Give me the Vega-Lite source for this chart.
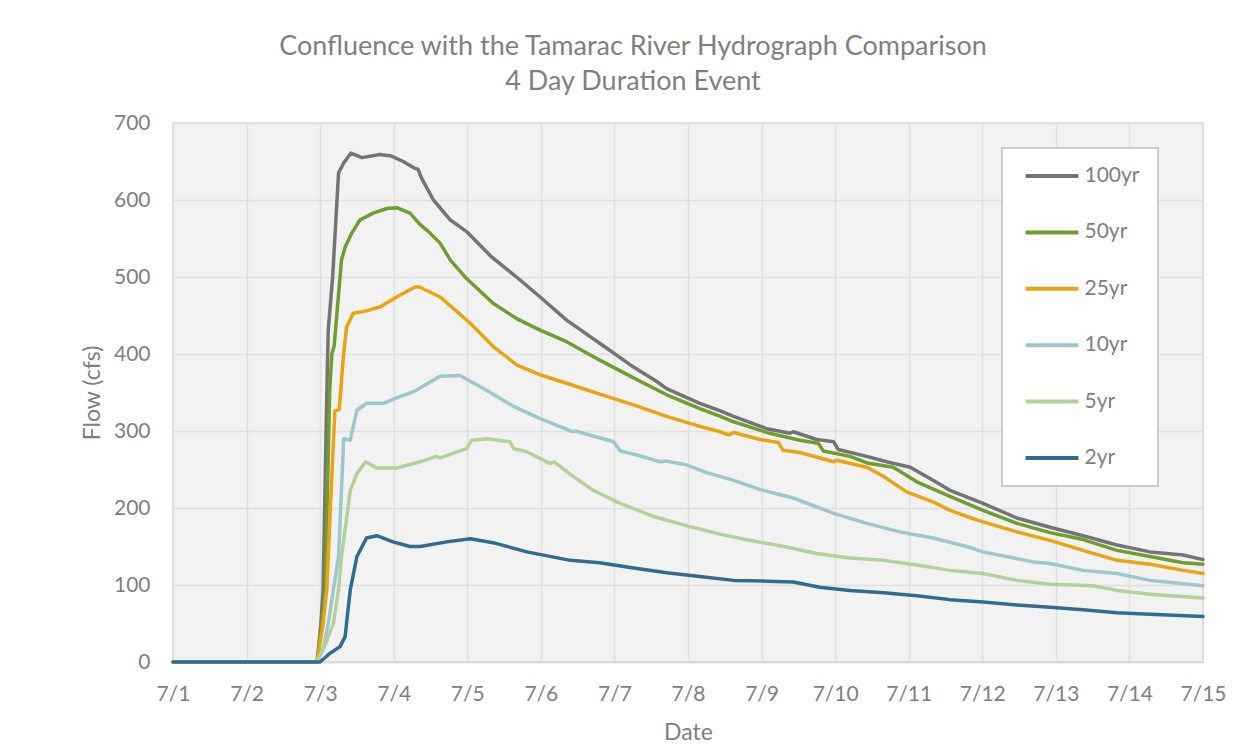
{
  "$schema": "https://vega.github.io/schema/vega-lite/v6.json",
  "width": 1030,
  "height": 539,
  "autosize": "none",
  "padding": {"left": 173, "top": 123, "right": 49, "bottom": 84},
  "background": "white",
  "title": {
    "text": ["Confluence with the Tamarac River Hydrograph Comparison", "4 Day Duration Event"],
    "anchor": "middle",
    "dx": -55,
    "offset": 16,
    "lineHeight": 35,
    "font": "Lato",
    "fontSize": 27,
    "fontWeight": "normal",
    "color": "#7f7f7f"
  },
  "config": {
    "view": {"fill": "#f2f2f2", "stroke": "#d9d9d9", "strokeWidth": 1.5},
    "axis": {
      "labelFont": "Lato", "labelFontSize": 21, "labelColor": "#7f7f7f",
      "titleFont": "Lato", "titleFontSize": 23, "titleFontWeight": "normal", "titleColor": "#7f7f7f",
      "gridColor": "#e0e0e0", "gridWidth": 1.5, "ticks": false
    },
    "legend": {
      "orient": "none", "legendX": 829, "legendY": 25,
      "fillColor": "white", "strokeColor": "#bfbfbf", "strokeWidth": 1.5,
      "padding": 17.5, "rowPadding": 34.4,
      "symbolType": "M-4,0H4", "symbolSize": 175, "symbolStrokeWidth": 4,
      "symbolOffset": 22, "labelOffset": 22,
      "labelFont": "Lato", "labelFontSize": 21, "labelColor": "#7f7f7f"
    }
  },
  "data": {"values": [
    {"d":1,"q":0,"s":"100yr"},{"d":2.96,"q":0,"s":"100yr"},{"d":3.01,"q":50,"s":"100yr"},{"d":3.04,"q":94,"s":"100yr"},{"d":3.09,"q":345,"s":"100yr"},{"d":3.11,"q":431,"s":"100yr"},{"d":3.17,"q":500,"s":"100yr"},{"d":3.25,"q":635,"s":"100yr"},{"d":3.32,"q":648,"s":"100yr"},{"d":3.42,"q":661,"s":"100yr"},{"d":3.57,"q":655,"s":"100yr"},{"d":3.81,"q":659,"s":"100yr"},{"d":3.97,"q":657,"s":"100yr"},{"d":4.13,"q":650,"s":"100yr"},{"d":4.29,"q":641,"s":"100yr"},{"d":4.33,"q":640,"s":"100yr"},{"d":4.38,"q":628,"s":"100yr"},{"d":4.54,"q":600,"s":"100yr"},{"d":4.77,"q":574,"s":"100yr"},{"d":4.99,"q":559,"s":"100yr"},{"d":5.33,"q":526,"s":"100yr"},{"d":5.67,"q":500,"s":"100yr"},{"d":5.99,"q":474,"s":"100yr"},{"d":6.35,"q":444,"s":"100yr"},{"d":6.8,"q":414,"s":"100yr"},{"d":7.26,"q":383,"s":"100yr"},{"d":7.58,"q":364,"s":"100yr"},{"d":7.71,"q":355,"s":"100yr"},{"d":8.16,"q":336,"s":"100yr"},{"d":8.44,"q":326,"s":"100yr"},{"d":8.62,"q":319,"s":"100yr"},{"d":9.07,"q":303,"s":"100yr"},{"d":9.39,"q":297,"s":"100yr"},{"d":9.43,"q":299,"s":"100yr"},{"d":9.75,"q":289,"s":"100yr"},{"d":9.98,"q":286,"s":"100yr"},{"d":10.04,"q":276,"s":"100yr"},{"d":10.43,"q":267,"s":"100yr"},{"d":10.7,"q":260,"s":"100yr"},{"d":11.02,"q":253,"s":"100yr"},{"d":11.33,"q":236,"s":"100yr"},{"d":11.56,"q":223,"s":"100yr"},{"d":12.01,"q":206,"s":"100yr"},{"d":12.47,"q":187,"s":"100yr"},{"d":12.92,"q":175,"s":"100yr"},{"d":13.37,"q":164,"s":"100yr"},{"d":13.83,"q":152,"s":"100yr"},{"d":14.28,"q":143,"s":"100yr"},{"d":14.73,"q":139,"s":"100yr"},{"d":15,"q":133,"s":"100yr"},

    {"d":1,"q":0,"s":"50yr"},{"d":2.96,"q":0,"s":"50yr"},{"d":3.02,"q":50,"s":"50yr"},{"d":3.07,"q":94,"s":"50yr"},{"d":3.13,"q":353,"s":"50yr"},{"d":3.16,"q":401,"s":"50yr"},{"d":3.19,"q":410,"s":"50yr"},{"d":3.29,"q":522,"s":"50yr"},{"d":3.34,"q":539,"s":"50yr"},{"d":3.43,"q":557,"s":"50yr"},{"d":3.54,"q":574,"s":"50yr"},{"d":3.72,"q":583,"s":"50yr"},{"d":3.91,"q":589,"s":"50yr"},{"d":4.04,"q":590,"s":"50yr"},{"d":4.22,"q":583,"s":"50yr"},{"d":4.36,"q":568,"s":"50yr"},{"d":4.45,"q":561,"s":"50yr"},{"d":4.63,"q":544,"s":"50yr"},{"d":4.77,"q":522,"s":"50yr"},{"d":4.99,"q":498,"s":"50yr"},{"d":5.35,"q":466,"s":"50yr"},{"d":5.67,"q":446,"s":"50yr"},{"d":5.99,"q":431,"s":"50yr"},{"d":6.35,"q":416,"s":"50yr"},{"d":6.8,"q":392,"s":"50yr"},{"d":7.26,"q":369,"s":"50yr"},{"d":7.71,"q":347,"s":"50yr"},{"d":8.16,"q":329,"s":"50yr"},{"d":8.44,"q":319,"s":"50yr"},{"d":8.62,"q":312,"s":"50yr"},{"d":9.11,"q":297,"s":"50yr"},{"d":9.52,"q":288,"s":"50yr"},{"d":9.77,"q":284,"s":"50yr"},{"d":9.84,"q":274,"s":"50yr"},{"d":10.2,"q":267,"s":"50yr"},{"d":10.45,"q":258,"s":"50yr"},{"d":10.79,"q":253,"s":"50yr"},{"d":11.11,"q":234,"s":"50yr"},{"d":11.56,"q":215,"s":"50yr"},{"d":12.01,"q":197,"s":"50yr"},{"d":12.47,"q":180,"s":"50yr"},{"d":12.92,"q":168,"s":"50yr"},{"d":13.37,"q":159,"s":"50yr"},{"d":13.83,"q":145,"s":"50yr"},{"d":14.28,"q":137,"s":"50yr"},{"d":14.73,"q":129,"s":"50yr"},{"d":15,"q":127,"s":"50yr"},

    {"d":1,"q":0,"s":"25yr"},{"d":2.96,"q":0,"s":"25yr"},{"d":3.04,"q":50,"s":"25yr"},{"d":3.09,"q":94,"s":"25yr"},{"d":3.15,"q":223,"s":"25yr"},{"d":3.2,"q":326,"s":"25yr"},{"d":3.26,"q":328,"s":"25yr"},{"d":3.28,"q":353,"s":"25yr"},{"d":3.32,"q":401,"s":"25yr"},{"d":3.36,"q":435,"s":"25yr"},{"d":3.45,"q":453,"s":"25yr"},{"d":3.63,"q":456,"s":"25yr"},{"d":3.81,"q":461,"s":"25yr"},{"d":4.04,"q":474,"s":"25yr"},{"d":4.29,"q":487,"s":"25yr"},{"d":4.35,"q":487,"s":"25yr"},{"d":4.63,"q":474,"s":"25yr"},{"d":4.86,"q":455,"s":"25yr"},{"d":5.04,"q":440,"s":"25yr"},{"d":5.35,"q":410,"s":"25yr"},{"d":5.67,"q":386,"s":"25yr"},{"d":5.99,"q":373,"s":"25yr"},{"d":6.35,"q":362,"s":"25yr"},{"d":6.8,"q":348,"s":"25yr"},{"d":7.26,"q":334,"s":"25yr"},{"d":7.71,"q":319,"s":"25yr"},{"d":8.16,"q":306,"s":"25yr"},{"d":8.44,"q":299,"s":"25yr"},{"d":8.55,"q":295,"s":"25yr"},{"d":8.62,"q":298,"s":"25yr"},{"d":8.98,"q":289,"s":"25yr"},{"d":9.23,"q":285,"s":"25yr"},{"d":9.29,"q":275,"s":"25yr"},{"d":9.52,"q":272,"s":"25yr"},{"d":9.98,"q":260,"s":"25yr"},{"d":10.02,"q":262,"s":"25yr"},{"d":10.43,"q":253,"s":"25yr"},{"d":10.66,"q":241,"s":"25yr"},{"d":10.97,"q":221,"s":"25yr"},{"d":11.33,"q":208,"s":"25yr"},{"d":11.56,"q":197,"s":"25yr"},{"d":11.79,"q":189,"s":"25yr"},{"d":12.01,"q":182,"s":"25yr"},{"d":12.47,"q":169,"s":"25yr"},{"d":12.92,"q":158,"s":"25yr"},{"d":13.37,"q":145,"s":"25yr"},{"d":13.83,"q":132,"s":"25yr"},{"d":14.28,"q":127,"s":"25yr"},{"d":14.73,"q":119,"s":"25yr"},{"d":15,"q":115,"s":"25yr"},

    {"d":1,"q":0,"s":"10yr"},{"d":2.96,"q":0,"s":"10yr"},{"d":3.05,"q":20,"s":"10yr"},{"d":3.11,"q":50,"s":"10yr"},{"d":3.18,"q":94,"s":"10yr"},{"d":3.25,"q":137,"s":"10yr"},{"d":3.29,"q":223,"s":"10yr"},{"d":3.32,"q":290,"s":"10yr"},{"d":3.41,"q":288,"s":"10yr"},{"d":3.43,"q":297,"s":"10yr"},{"d":3.5,"q":327,"s":"10yr"},{"d":3.63,"q":336,"s":"10yr"},{"d":3.86,"q":336,"s":"10yr"},{"d":4.09,"q":345,"s":"10yr"},{"d":4.27,"q":351,"s":"10yr"},{"d":4.63,"q":371,"s":"10yr"},{"d":4.9,"q":372,"s":"10yr"},{"d":5.26,"q":353,"s":"10yr"},{"d":5.63,"q":332,"s":"10yr"},{"d":5.99,"q":316,"s":"10yr"},{"d":6.44,"q":299,"s":"10yr"},{"d":6.47,"q":300,"s":"10yr"},{"d":6.99,"q":286,"s":"10yr"},{"d":7.08,"q":274,"s":"10yr"},{"d":7.3,"q":269,"s":"10yr"},{"d":7.62,"q":260,"s":"10yr"},{"d":7.7,"q":261,"s":"10yr"},{"d":7.98,"q":256,"s":"10yr"},{"d":8.25,"q":246,"s":"10yr"},{"d":8.62,"q":236,"s":"10yr"},{"d":8.98,"q":224,"s":"10yr"},{"d":9.43,"q":213,"s":"10yr"},{"d":9.98,"q":193,"s":"10yr"},{"d":10.43,"q":180,"s":"10yr"},{"d":10.88,"q":169,"s":"10yr"},{"d":11.33,"q":161,"s":"10yr"},{"d":11.79,"q":150,"s":"10yr"},{"d":12.01,"q":143,"s":"10yr"},{"d":12.69,"q":130,"s":"10yr"},{"d":12.92,"q":128,"s":"10yr"},{"d":13.37,"q":119,"s":"10yr"},{"d":13.83,"q":115,"s":"10yr"},{"d":14.28,"q":106,"s":"10yr"},{"d":15,"q":99,"s":"10yr"},

    {"d":1,"q":0,"s":"5yr"},{"d":2.96,"q":0,"s":"5yr"},{"d":3.06,"q":20,"s":"5yr"},{"d":3.18,"q":50,"s":"5yr"},{"d":3.25,"q":94,"s":"5yr"},{"d":3.29,"q":137,"s":"5yr"},{"d":3.35,"q":180,"s":"5yr"},{"d":3.41,"q":223,"s":"5yr"},{"d":3.5,"q":245,"s":"5yr"},{"d":3.62,"q":260,"s":"5yr"},{"d":3.77,"q":252,"s":"5yr"},{"d":4.04,"q":252,"s":"5yr"},{"d":4.36,"q":260,"s":"5yr"},{"d":4.58,"q":267,"s":"5yr"},{"d":4.63,"q":265,"s":"5yr"},{"d":4.99,"q":277,"s":"5yr"},{"d":5.06,"q":288,"s":"5yr"},{"d":5.26,"q":290,"s":"5yr"},{"d":5.58,"q":286,"s":"5yr"},{"d":5.63,"q":277,"s":"5yr"},{"d":5.81,"q":273,"s":"5yr"},{"d":6.12,"q":258,"s":"5yr"},{"d":6.18,"q":260,"s":"5yr"},{"d":6.44,"q":241,"s":"5yr"},{"d":6.71,"q":223,"s":"5yr"},{"d":7.08,"q":206,"s":"5yr"},{"d":7.53,"q":189,"s":"5yr"},{"d":7.94,"q":178,"s":"5yr"},{"d":8.39,"q":167,"s":"5yr"},{"d":8.84,"q":158,"s":"5yr"},{"d":9.3,"q":150,"s":"5yr"},{"d":9.75,"q":141,"s":"5yr"},{"d":10.2,"q":135,"s":"5yr"},{"d":10.66,"q":132,"s":"5yr"},{"d":11.11,"q":126,"s":"5yr"},{"d":11.56,"q":119,"s":"5yr"},{"d":12.01,"q":115,"s":"5yr"},{"d":12.47,"q":106,"s":"5yr"},{"d":12.92,"q":101,"s":"5yr"},{"d":13.51,"q":99,"s":"5yr"},{"d":13.83,"q":93,"s":"5yr"},{"d":14.28,"q":88,"s":"5yr"},{"d":15,"q":83,"s":"5yr"},

    {"d":1,"q":0,"s":"2yr"},{"d":3,"q":0,"s":"2yr"},{"d":3.13,"q":11,"s":"2yr"},{"d":3.27,"q":20,"s":"2yr"},{"d":3.34,"q":33,"s":"2yr"},{"d":3.37,"q":60,"s":"2yr"},{"d":3.41,"q":94,"s":"2yr"},{"d":3.5,"q":137,"s":"2yr"},{"d":3.63,"q":161,"s":"2yr"},{"d":3.77,"q":164,"s":"2yr"},{"d":3.99,"q":156,"s":"2yr"},{"d":4.22,"q":150,"s":"2yr"},{"d":4.36,"q":150,"s":"2yr"},{"d":4.72,"q":156,"s":"2yr"},{"d":5.04,"q":160,"s":"2yr"},{"d":5.35,"q":155,"s":"2yr"},{"d":5.81,"q":143,"s":"2yr"},{"d":6.4,"q":132,"s":"2yr"},{"d":6.8,"q":129,"s":"2yr"},{"d":7.26,"q":122,"s":"2yr"},{"d":7.71,"q":116,"s":"2yr"},{"d":8.16,"q":111,"s":"2yr"},{"d":8.62,"q":106,"s":"2yr"},{"d":9.07,"q":105,"s":"2yr"},{"d":9.43,"q":104,"s":"2yr"},{"d":9.79,"q":97,"s":"2yr"},{"d":10.2,"q":93,"s":"2yr"},{"d":10.66,"q":90,"s":"2yr"},{"d":11.11,"q":86,"s":"2yr"},{"d":11.56,"q":81,"s":"2yr"},{"d":12.01,"q":78,"s":"2yr"},{"d":12.47,"q":74,"s":"2yr"},{"d":12.92,"q":71,"s":"2yr"},{"d":13.37,"q":68,"s":"2yr"},{"d":13.83,"q":64,"s":"2yr"},{"d":14.28,"q":62,"s":"2yr"},{"d":15,"q":59,"s":"2yr"}
  ]},
  "mark": {"type": "line", "strokeWidth": 3.5, "strokeJoin": "round", "strokeCap": "round"},
  "encoding": {
    "x": {
      "field": "d", "type": "quantitative",
      "scale": {"domain": [1, 15], "nice": false, "zero": false},
      "axis": {
        "title": "Date", "values": [1,2,3,4,5,6,7,8,9,10,11,12,13,14,15],
        "labelExpr": "'7/' + datum.value", "labelPadding": 21, "titlePadding": 17,
        "domainColor": "#d9d9d9", "domainWidth": 1.5, "labelFlush": false
      }
    },
    "y": {
      "field": "q", "type": "quantitative",
      "scale": {"domain": [0, 700], "nice": false},
      "axis": {
        "title": "Flow (cfs)", "values": [0,100,200,300,400,500,600,700],
        "labelPadding": 23, "titlePadding": 9, "domain": false
      }
    },
    "color": {
      "field": "s", "type": "nominal",
      "scale": {
        "domain": ["100yr", "50yr", "25yr", "10yr", "5yr", "2yr"],
        "range": ["#747474", "#6e9f2e", "#e9a413", "#9dc7cc", "#b5d19b", "#316b8f"]
      },
      "legend": {"title": null}
    }
  }
}
